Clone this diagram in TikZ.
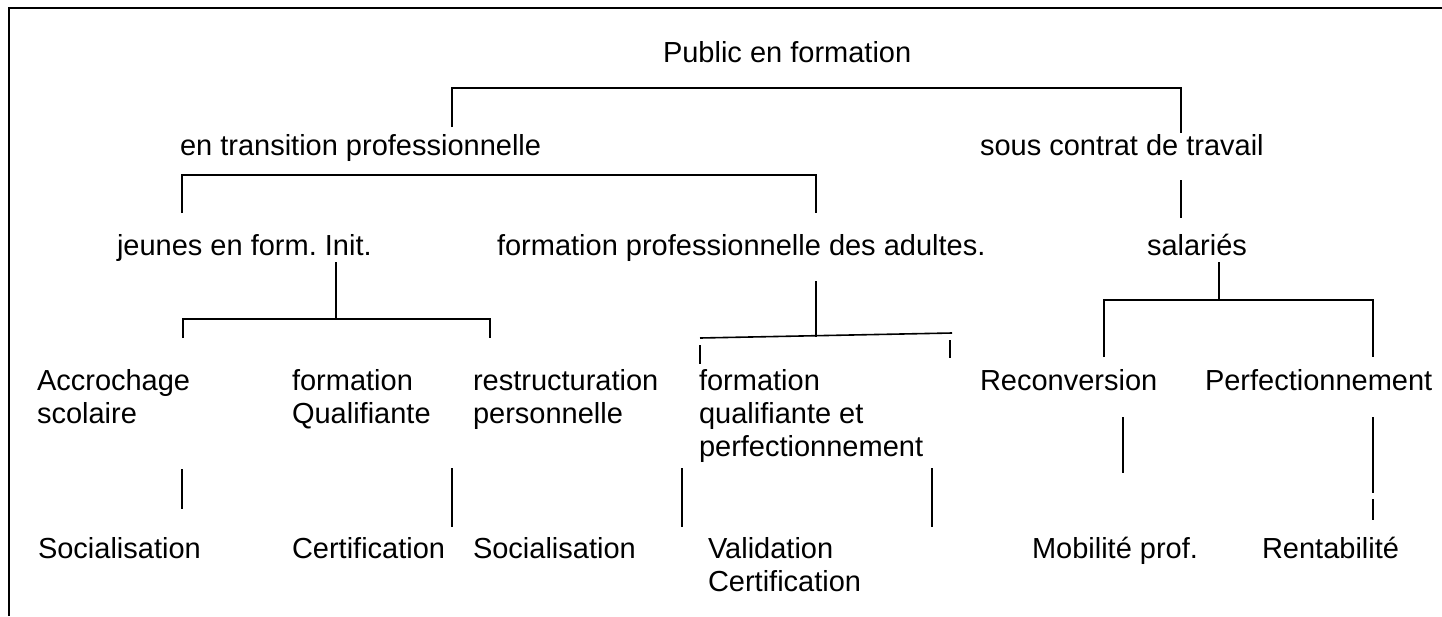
\documentclass[tikz,border=0pt]{standalone}
\usepackage{fontspec}
\setmainfont{Liberation Sans}
\frenchspacing
\begin{document}
\begin{tikzpicture}[x=1pt,y=-1pt,
  lbl/.style={anchor=base west, inner sep=0pt, outer sep=0pt, font=\fontsize{29}{33}\selectfont\frenchspacing, align=left},
  conn/.style={line width=1.6pt},
  frame/.style={line width=2.5pt}]
\useasboundingbox (0,0) rectangle (1442,616);
\draw[frame] (9,616) -- (9,8) -- (1442,8);
% texts (multi-line nodes are placed by the baseline of their last line)
\node[lbl] (root) at (663,62) {Public en formation};
\node[lbl] (trans) at (180,155) {en transition professionnelle};
\node[lbl] (contrat) at (980,155) {sous contrat de travail};
\node[lbl] (jeunes) at (117,255) {jeunes en form. Init.};
\node[lbl] (fpa) at (497,255) {formation professionnelle des adultes.};
\node[lbl] (sal) at (1147,255) {salariés};
\node[lbl] (accro) at (37,423) {Accrochage\\scolaire};
\node[lbl] (fq) at (292,423) {formation\\Qualifiante};
\node[lbl] (restr) at (473,423) {restructuration\\personnelle};
\node[lbl] (fqp) at (699,456) {formation\\qualifiante et\\perfectionnement};
\node[lbl] (recon) at (980,390) {Reconversion};
\node[lbl] (perf) at (1205,390) {Perfectionnement};
\node[lbl] (soc1) at (38,558) {Socialisation};
\node[lbl] (cert) at (292,558) {Certification};
\node[lbl] (soc2) at (473,558) {Socialisation};
\node[lbl] (valid) at (708,591) {Validation\\Certification};
\node[lbl] (mob) at (1032,558) {Mobilité prof.};
\node[lbl] (rent) at (1262,558) {Rentabilité};
% connector ends
\coordinate (r1) at (452,127); \coordinate (r2) at (1181,133);
\coordinate (t1) at (182,213); \coordinate (t2) at (816,213);
\coordinate (c1) at (1181,180); \coordinate (c2) at (1181,218);
\coordinate (j0) at (336,262); \coordinate (j1) at (183,338); \coordinate (j2) at (490,338);
\coordinate (f0) at (816,281); \coordinate (f0b) at (816,337);
\coordinate (fl) at (700,338); \coordinate (fr) at (952,333);
\coordinate (s0) at (1219,262); \coordinate (s1) at (1104,357); \coordinate (s2) at (1373,357);
\draw[conn] (r1) -- (452,88) -- (1181,88) -- (r2);
\draw[conn] (t1) -- (182,175) -- (816,175) -- (t2);
\draw[conn] (c1) -- (c2);
\draw[conn] (j0) -- (336,319);
\draw[conn] (j1) -- (183,319) -- (490,319) -- (j2);
\draw[conn] (f0) -- (f0b);
\draw[conn] (fl) -- (fr);
\draw[conn] (700,345) -- (700,364);
\draw[conn] (950,340) -- (950,358);
\draw[conn] (s0) -- (1219,300);
\draw[conn] (s1) -- (1104,300) -- (1373,300) -- (s2);
\draw[conn] (182,469) -- (182,509);
\draw[conn] (452,468) -- (452,527);
\draw[conn] (682,468) -- (682,527);
\draw[conn] (932,468) -- (932,527);
\draw[conn] (1123,417) -- (1123,473);
\draw[conn] (1373,417) -- (1373,493);
\draw[conn] (1373,499) -- (1373,520);
\end{tikzpicture}
\end{document}
